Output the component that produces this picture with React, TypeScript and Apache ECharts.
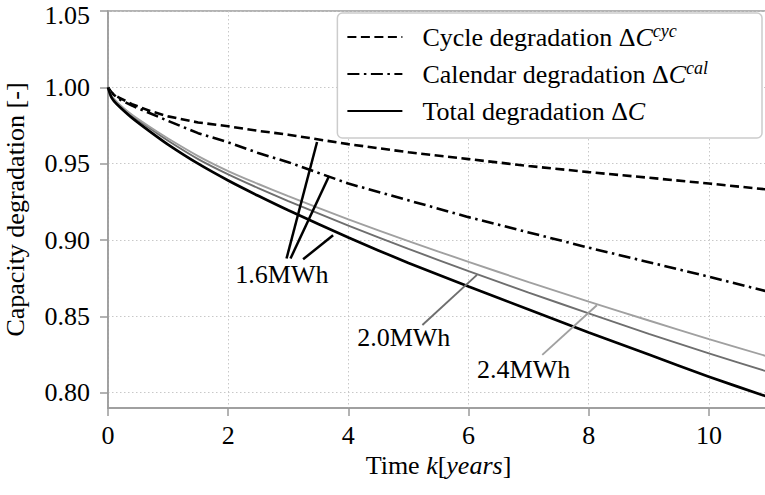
import React, { useEffect, useRef } from "react";
import * as echarts from "echarts";

// ---- data ----
const years = [0, 0.05, 0.1, 0.2, 0.4, 0.7, 1, 1.5, 2, 2.5, 3, 4, 5, 6, 7, 8, 9, 10, 11];
const cycleDeg = [1.0, 0.997, 0.995, 0.993, 0.989, 0.9845, 0.981, 0.977, 0.9745, 0.9715, 0.969, 0.9628, 0.9575, 0.953, 0.9485, 0.9445, 0.9408, 0.937, 0.933];
const calendarDeg = [1.0, 0.997, 0.995, 0.992, 0.988, 0.983, 0.978, 0.970, 0.964, 0.957, 0.951, 0.937, 0.926, 0.915, 0.905, 0.895, 0.8855, 0.876, 0.866];
const total16 = [1.0, 0.994, 0.991, 0.987, 0.980, 0.971, 0.9625, 0.950, 0.939, 0.929, 0.9195, 0.9016, 0.885, 0.8695, 0.8545, 0.8395, 0.825, 0.8105, 0.797];
const total20 = [1.0, 0.9945, 0.992, 0.988, 0.9815, 0.973, 0.965, 0.953, 0.943, 0.934, 0.9255, 0.9095, 0.8942, 0.8797, 0.8656, 0.852, 0.8386, 0.8258, 0.8135];
const total24 = [1.0, 0.995, 0.9925, 0.9885, 0.982, 0.974, 0.9665, 0.955, 0.9452, 0.9367, 0.9287, 0.9135, 0.8993, 0.8857, 0.8725, 0.8597, 0.8473, 0.8351, 0.8235];

const xTicks = [0, 2, 4, 6, 8, 10];
const yTicks = [0.8, 0.85, 0.9, 0.95, 1.0, 1.05];

const legendNames = ["Cycle degradation", "Calendar degradation", "Total degradation"];
const legendSup: Record<string, string> = {
  "Cycle degradation": "cyc",
  "Calendar degradation": "cal",
  "Total degradation": "",
};

// annotation labels and pointer lines (data coordinates)
const label16 = "1.6MWh";
const label20 = "2.0MWh";
const label24 = "2.4MWh";
const label16Pos: [number, number] = [2.893, 0.8776];
const label20Pos: [number, number] = [4.921, 0.8364];
const label24Pos: [number, number] = [6.916, 0.8154];
const pointers16: [number, number][][] = [
  [[2.971, 0.8879], [3.479, 0.9642]],
  [[3.037, 0.8879], [3.679, 0.942]],
  [[3.247, 0.8874], [3.746, 0.9031]],
];
const pointers20: [number, number][][] = [[[5.232, 0.8444], [6.14, 0.8772]]];
const pointers24: [number, number][][] = [[[7.227, 0.8248], [8.135, 0.8573]]];

const FONT = "Liberation Serif, DejaVu Serif, serif";
const AXIS_GRAY = "#9a9a9a";

const zip = (ys: number[]) => years.map((x, i) => [x, ys[i]]);

const markLines = (ptrs: [number, number][][], color: string, width: number) => ({
  silent: true,
  symbol: ["none", "none"],
  label: { show: false },
  lineStyle: { color, width, type: "solid" },
  emphasis: { disabled: true },
  data: ptrs.map(([a, b]) => [{ coord: a }, { coord: b }]),
});

const markLabel = (text: string, pos: [number, number]) => ({
  silent: true,
  symbol: "circle",
  symbolSize: 1,
  itemStyle: { color: "rgba(0,0,0,0)" },
  label: {
    show: true,
    position: "inside",
    formatter: text,
    color: "#000",
    fontSize: 26,
    fontFamily: FONT,
  },
  data: [{ coord: pos, name: text }],
});

export default function App() {
  const ref = useRef<HTMLDivElement>(null);

  useEffect(() => {
    document.body.style.margin = "0";
    if (!ref.current) return;
    const chart = echarts.init(ref.current, undefined, { renderer: "svg" });

    const yMaxTick = yTicks[yTicks.length - 1];

    chart.setOption({
      animation: false,
      backgroundColor: "#fff",
      textStyle: { fontFamily: FONT },
      grid: {
        left: 108,
        right: -4,
        top: 11,
        bottom: 87,
        outerBoundsMode: "none",
        containLabel: false,
        show: true,
        borderColor: AXIS_GRAY,
        borderWidth: 1.5,
        backgroundColor: "transparent",
      },
      legend: {
        data: legendNames,
        orient: "vertical",
        right: 3,
        top: 13,
        padding: [9, 10, 12, 9],
        itemGap: 7,
        itemWidth: 55,
        itemHeight: 14,
        backgroundColor: "#fff",
        borderColor: "#cccccc",
        borderWidth: 1.5,
        borderRadius: 5,
        itemStyle: { opacity: 0 },
        z: 10,
        formatter: (name: string) => {
          const sup = legendSup[name];
          return sup ? `${name} Δ{i|C}{sup|${sup}}` : `${name} Δ{i|C}`;
        },
        textStyle: {
          fontFamily: FONT,
          fontSize: 26,
          color: "#000",
          lineHeight: 30,
          padding: [0, 44, 0, 15],
          rich: {
            i: { fontFamily: FONT, fontSize: 26, fontStyle: "italic", color: "#000", lineHeight: 30 },
            sup: { fontFamily: FONT, fontSize: 18, fontStyle: "italic", color: "#000", verticalAlign: "top", lineHeight: 18 },
          },
        },
      },
      xAxis: {
        type: "value",
        min: 0,
        max: 11,
        name: "Time {i|k}[{i|years}]",
        nameLocation: "middle",
        nameGap: 42,
        nameTextStyle: {
          fontFamily: FONT,
          fontSize: 26,
          color: "#000",
          rich: { i: { fontFamily: FONT, fontSize: 26, fontStyle: "italic", color: "#000" } },
        },
        axisLine: { show: true, lineStyle: { color: AXIS_GRAY, width: 1.5 } },
        axisTick: { show: true, length: 8, customValues: xTicks, lineStyle: { color: AXIS_GRAY, width: 1.5 } },
        axisLabel: { customValues: xTicks, fontFamily: FONT, fontSize: 26, color: "#000", margin: 14 },
        splitLine: { show: true, lineStyle: { color: "#c8c8c8", width: 1, type: [1.5, 2.5] } },
      },
      yAxis: {
        type: "value",
        min: 0.79,
        max: 1.05,
        name: "Capacity degradation [-]",
        nameLocation: "middle",
        nameGap: 80,
        nameTextStyle: { fontFamily: FONT, fontSize: 26, color: "#000" },
        axisLine: { show: true, lineStyle: { color: AXIS_GRAY, width: 1.5 } },
        axisTick: { show: true, length: 8, customValues: yTicks, lineStyle: { color: AXIS_GRAY, width: 1.5 } },
        axisLabel: {
          customValues: yTicks,
          fontFamily: FONT,
          fontSize: 26,
          color: "#000",
          margin: 18,
          formatter: (v: number) =>
            Math.abs(v - yMaxTick) < 1e-9 ? `{top|${v.toFixed(2)}}` : v.toFixed(2),
          rich: {
            top: { fontFamily: FONT, fontSize: 26, color: "#000", padding: [8, 0, 0, 0] },
          },
        },
        splitLine: { show: true, lineStyle: { color: "#c8c8c8", width: 1, type: [1.5, 2.5] } },
      },
      series: [
        {
          name: "Cycle degradation",
          type: "line",
          data: zip(cycleDeg),
          symbol: "none",
          lineStyle: { color: "#000", width: 2.6, type: [9, 4.5] },
          itemStyle: { color: "#000" },
          z: 3,
        },
        {
          name: "Calendar degradation",
          type: "line",
          data: zip(calendarDeg),
          symbol: "none",
          lineStyle: { color: "#000", width: 2.6, type: [12, 4.5, 2.5, 4.5] },
          itemStyle: { color: "#000" },
          z: 3,
        },
        {
          name: "Total degradation",
          type: "line",
          data: zip(total16),
          symbol: "none",
          smooth: 0.2,
          lineStyle: { color: "#000", width: 2.7 },
          itemStyle: { color: "#000" },
          markLine: markLines(pointers16, "#000", 2.5),
          markPoint: markLabel(label16, label16Pos),
          z: 4,
        },
        {
          name: "Total 2.0MWh",
          type: "line",
          data: zip(total20),
          symbol: "none",
          smooth: 0.2,
          lineStyle: { color: "#6e6e6e", width: 1.9 },
          itemStyle: { color: "#6e6e6e" },
          markLine: markLines(pointers20, "#6e6e6e", 1.9),
          markPoint: markLabel(label20, label20Pos),
          z: 3,
        },
        {
          name: "Total 2.4MWh",
          type: "line",
          data: zip(total24),
          symbol: "none",
          smooth: 0.2,
          lineStyle: { color: "#a0a0a0", width: 1.9 },
          itemStyle: { color: "#a0a0a0" },
          markLine: markLines(pointers24, "#a0a0a0", 1.9),
          markPoint: markLabel(label24, label24Pos),
          z: 3,
        },
      ],
    });

    return () => chart.dispose();
  }, []);

  return (
    <div
      ref={ref}
      style={{ position: "absolute", left: 0, top: 0, width: 765, height: 495, background: "#fff" }}
    />
  );
}
